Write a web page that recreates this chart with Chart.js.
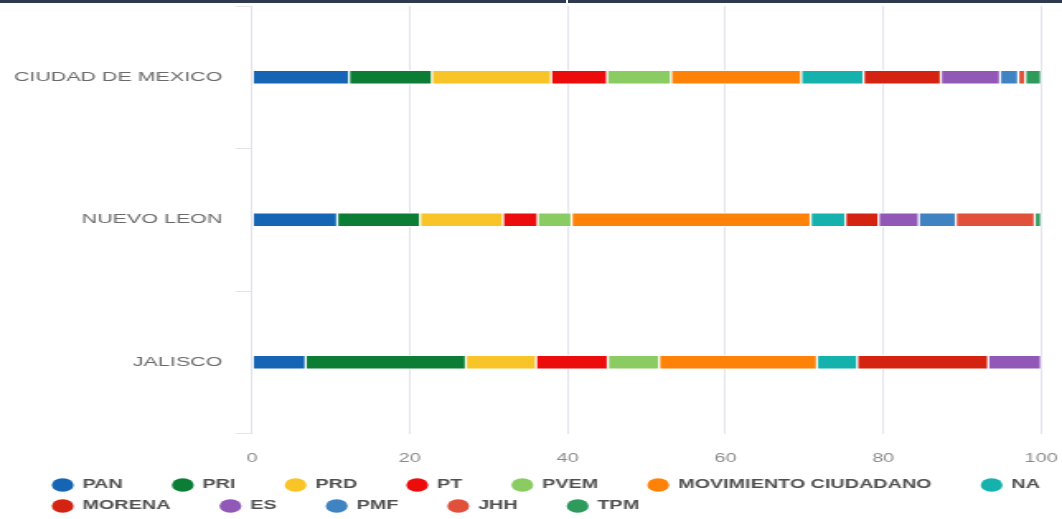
<!DOCTYPE html>
<html>
<head>
<meta charset="utf-8">
<script src="https://cdn.jsdelivr.net/npm/chart.js@4/dist/chart.umd.min.js"></script>
<style>
  body { margin: 0; background: #fff; overflow: hidden; }
  #wrap { position: relative; width: 1062px; height: 519px; }
  #topbar {
    position: absolute; top: 0; left: 0; width: 1062px; height: 3px;
    background: linear-gradient(to right, #2f3a4e 566px, #fff 566px, #fff 568px, #2f3a4e 568px);
  }
</style>
</head>
<body>
<div id="wrap">
  <!-- the reference is a horizontally stretched screenshot, so the canvas is drawn narrow and stretched -->
  <canvas id="chart" width="644" height="519" style="display:block;width:1062px;height:519px"></canvas>
  <div id="topbar"></div>
</div>
<script>
// States (rows of the chart)
const states = ['CIUDAD DE MEXICO', 'NUEVO LEON', 'JALISCO'];

// Party names and colours
const parties = ['PAN', 'PRI', 'PRD', 'PT', 'PVEM', 'MOVIMIENTO CIUDADANO', 'NA', 'MORENA', 'ES', 'PMF', 'JHH', 'TPM'];
const partyColors = ['#1565b4', '#0b7d34', '#f9c428', '#ec0c0c', '#8acb62', '#ff8208', '#14b1ad', '#d42310', '#9158b8', '#3f83c3', '#e0503a', '#2e9a5c'];

// Share per state (%), order: CDMX, Nuevo Leon, Jalisco
const pan    = [12.3, 10.8, 6.8];
const pri    = [10.5, 10.5, 20.3];
const prd    = [15.1, 10.5, 8.9];
const pt     = [7.1, 4.4, 9.1];
const pvem   = [8.1, 4.3, 6.5];
const mc     = [16.5, 30.3, 20.0];
const na     = [7.9, 4.4, 5.1];
const morena = [9.8, 4.2, 16.6];
const es     = [7.5, 5.1, 6.7];
const pmf    = [2.3, 4.7, 0];
const jhh    = [0.9, 10.0, 0];
const tpm    = [2.0, 0.8, 0];

// x axis ticks
const xMin = 0;
const xMax = 100;
const xStep = 20;

const seriesValues = [pan, pri, prd, pt, pvem, mc, na, morena, es, pmf, jhh, tpm];

const datasets = parties.map((name, i) => ({
  label: name,
  data: seriesValues[i],
  backgroundColor: partyColors[i],
  borderColor: '#ffffff',
  borderWidth: 1,
  borderSkipped: false,
  barThickness: 14
}));

// move the legend box a bit to the right without touching the axes
const legendShift = {
  id: 'legendShift',
  afterLayout(chart) {
    if (chart.legend) {
      chart.legend.left += 18;
      chart.legend.right += 18;
    }
  }
};

const ctx = document.getElementById('chart').getContext('2d');

new Chart(ctx, {
  type: 'bar',
  data: {
    labels: states,
    datasets: datasets
  },
  plugins: [legendShift],
  options: {
    indexAxis: 'y',
    responsive: false,
    animation: false,
    layout: {
      padding: { left: 5, right: 0, top: 6, bottom: -3 }
    },
    scales: {
      x: {
        stacked: true,
        min: xMin,
        max: xMax,
        border: { display: false },
        grid: {
          color: '#e3e3ee',
          drawTicks: false
        },
        ticks: {
          stepSize: xStep,
          padding: 18,
          color: '#8a8a8a',
          font: { family: 'Liberation Sans, Arial, sans-serif', size: 12 }
        },
        afterFit: function(scale) {
          scale.height = 36.5;
          scale.paddingLeft = 0;
          scale.paddingRight = 12.7;
        }
      },
      y: {
        stacked: true,
        border: { display: false },
        grid: {
          color: '#e3e3ea',
          drawOnChartArea: false,
          drawTicks: true,
          tickLength: 10
        },
        ticks: {
          padding: 8,
          color: '#6a6a6a',
          font: { family: 'Liberation Sans, Arial, sans-serif', size: 13 }
        },
        afterFit: function(scale) {
          scale.width = 147.8;
          scale.paddingTop = 0;
          scale.paddingBottom = 0;
        }
      }
    },
    plugins: {
      tooltip: { enabled: false },
      legend: {
        position: 'bottom',
        align: 'start',
        labels: {
          usePointStyle: true,
          pointStyle: 'circle',
          boxWidth: 12,
          boxHeight: 9.4,
          padding: 9,
          color: '#505050',
          font: { family: 'Liberation Sans, Arial, sans-serif', size: 12, weight: 'bold' },
          // extra gap after each label, the legend's padding is shared with the row spacing
          generateLabels: function(chart) {
            const items = Chart.defaults.plugins.legend.labels.generateLabels(chart);
            items.forEach(item => {
              item.text = item.text + '\u2002\u2003\u2009\u200A';
              item.lineWidth = 0;
            });
            return items;
          }
        }
      }
    }
  }
});
</script>
</body>
</html>
